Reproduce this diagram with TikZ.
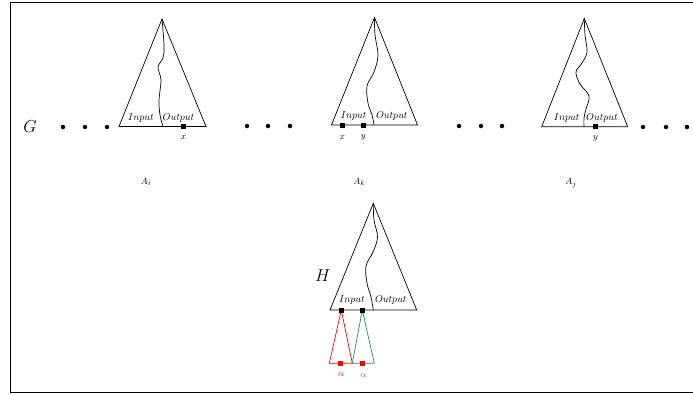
\documentclass[tikz,border=0pt]{standalone}
\definecolor{redc}{RGB}{255,0,0}
\definecolor{greenc}{RGB}{46,139,87}
\tikzset{
  tri/.style={draw=black, line width=0.7pt, line join=miter},
  wave/.style={draw=black, line width=0.7pt},
  io/.style={font=\fontsize{10}{12}\selectfont, inner sep=0pt, anchor=base},
  sq/.style={rectangle, fill=black, minimum size=5pt, inner sep=0pt},
  dotn/.style={circle, fill=black, minimum size=4.5pt, inner sep=0pt},
  smalllbl/.style={font=\fontsize{9.5}{11}\selectfont, inner sep=0pt},
  biglbl/.style={font=\fontsize{18}{21}\selectfont, inner sep=0pt},
}
\begin{document}
\begin{tikzpicture}[x=1pt,y=-1pt]
\useasboundingbox (0,0) rectangle (693,394);
% frame
\draw[line width=0.9pt] (693,2.5) -- (10.5,2.5) -- (10.5,392.5) -- (693,392.5);

% G and dots
\node[biglbl] (G) at (30,127) {$G$};
\node[dotn] (d1) at (63,127) {};
\node[dotn] (d2) at (85,127) {};
\node[dotn] (d3) at (107,127) {};
\node[dotn] (d4) at (247,126) {};
\node[dotn] (d5) at (268,126) {};
\node[dotn] (d6) at (290,126) {};
\node[dotn] (d7) at (459,126) {};
\node[dotn] (d8) at (481,126) {};
\node[dotn] (d9) at (502,126) {};
\node[dotn] (d10) at (643,127) {};
\node[dotn] (d11) at (666,127) {};
\node[dotn] (d12) at (687,127) {};

% Triangle A_i
\coordinate (ia) at (162,19);
\coordinate (il) at (119,126.5);
\coordinate (ir) at (206,126.5);
\draw[tri] (ia) -- (il) -- (ir) -- cycle;
\draw[wave] plot[smooth, tension=0.6] coordinates {(162,19) (164,45) (163,58) (158,67) (161,80) (159,100) (160,115) (163,126.5)};
\node[io] (iin) at (141,120) {$Input$};
\node[io] (iout) at (178.5,120) {$Output$};
\node[sq] (ix) at (183.5,126.5) {};
\node[smalllbl] (ixl) at (183.5,138) {$x$};
\node[smalllbl] (Ai) at (146,182) {$A_i$};

% Triangle A_k
\coordinate (ka) at (374.5,17.5);
\coordinate (kl) at (331.5,125);
\coordinate (kr) at (417.5,125);
\draw[tri] (ka) -- (kl) -- (kr) -- cycle;
\draw[wave] plot[smooth, tension=0.6] coordinates {(374.5,17.5) (375,35) (378,55) (374,72) (367,86) (368,103) (372,115) (374,125)};
\node[io] (kin) at (353.7,118) {$Input$};
\node[io] (kout) at (391.8,118) {$Output$};
\node[sq] (kx) at (342.3,125) {};
\node[sq] (ky) at (363.3,125) {};
\node[smalllbl] (kxl) at (342.3,137.5) {$x$};
\node[smalllbl] (kyl) at (363.3,137.5) {$y$};
\node[smalllbl] (Ak) at (359.3,182) {$A_k$};

% Triangle A_j
\coordinate (ja) at (584.3,18.5);
\coordinate (jl) at (541.7,126.7);
\coordinate (jr) at (627.7,126.7);
\draw[tri] (ja) -- (jl) -- (jr) -- cycle;
\draw[wave] plot[smooth, tension=0.6] coordinates {(584.3,18.5) (585,35) (587,52) (582,63) (576,72) (580,84) (589,96) (586,109) (584,118) (584,126.7)};
\node[io] (jin) at (566.7,120) {$Input$};
\node[io] (jout) at (602,120) {$Output$};
\node[sq] (jy) at (595.7,126.7) {};
\node[smalllbl] (jyl) at (595.5,138) {$y$};
\node[smalllbl] (Aj) at (571,183) {$A_j$};

% Triangle H
\coordinate (ha) at (373.3,203.3);
\coordinate (hl) at (330,310);
\coordinate (hr) at (416.7,310);
\draw[tri] (ha) -- (hl) -- (hr) -- cycle;
\draw[wave] plot[smooth, tension=0.6] coordinates {(373.3,203.3) (374,220) (377.5,237) (373,252) (366,266) (367,283) (371,297) (373.3,310)};
\node[biglbl] (H) at (322.7,276) {$H$};
\node[io] (hin) at (352,302.5) {$Input$};
\node[io] (hout) at (390.8,302.5) {$Output$};

% red and green sub-triangles
\coordinate (rl) at (329.3,363.3);
\coordinate (rr) at (352.3,363.3);
\coordinate (gl) at (352.3,363.3);
\coordinate (gr) at (374.3,363.3);
\node[sq] (hs1) at (341.3,310) {};
\node[sq] (hs2) at (362.3,310) {};
\draw[redc, line width=0.7pt] (hs1.center) -- (rl) -- (rr) -- cycle;
\draw[greenc, line width=0.7pt] (hs2.center) -- (gl) -- (gr) -- cycle;
\node[sq] at (341.3,310) {};
\node[sq] at (362.3,310) {};
\node[sq, fill=redc] (rs) at (340.3,363.3) {};
\node[sq, fill=redc] (gs) at (362.3,363.3) {};
\node[smalllbl, text=redc] (ra) at (341,375) {$\alpha$};
\node[smalllbl, text=greenc] (ga) at (363.3,375.5) {$\alpha$};
\end{tikzpicture}
\end{document}
